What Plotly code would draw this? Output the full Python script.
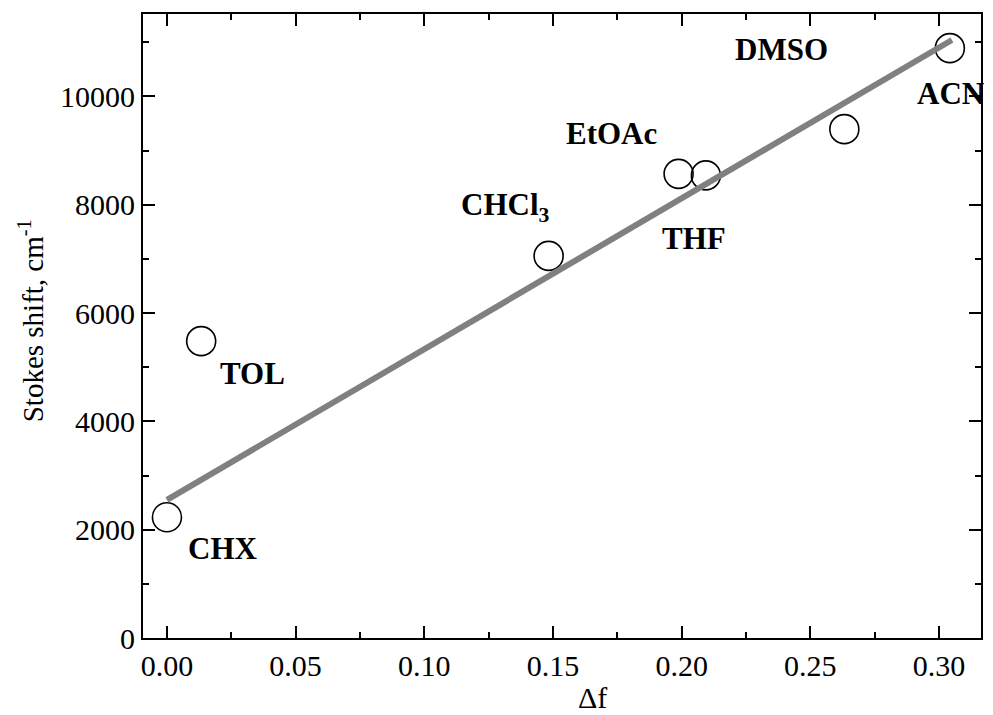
import plotly.graph_objects as go

# Data
delta_f = [0.0, 0.0133, 0.1483, 0.1988, 0.2094, 0.2632, 0.3042]
stokes = [2230, 5480, 7054, 8569, 8540, 9394, 10890]

fit_x = [0.0, 0.305]
fit_y = [2550, 11040]

x_ticks = [0, 0.05, 0.10, 0.15, 0.20, 0.25, 0.30]
x_ticktext = ["0.00", "0.05", "0.10", "0.15", "0.20", "0.25", "0.30"]
y_ticks = [0, 2000, 4000, 6000, 8000, 10000]
y_ticktext = ["0", "2000", "4000", "6000", "8000", "10000"]

label_text = ["CHX", "TOL", "CHCl<sub>3</sub>", "EtOAc", "THF", "DMSO", "ACN"]
label_x = [0.0217, 0.0334, 0.1316, 0.1727, 0.2046, 0.2387, 0.3043]
label_y = [1644, 4876, 7960, 9307, 7369, 10859, 10047]

FONT = "Liberation Serif, Times New Roman, serif"

fig = go.Figure()
fig.add_trace(go.Scatter(
    x=delta_f, y=stokes, mode="markers",
    marker=dict(symbol="circle-open", size=29, color="black", line=dict(width=1.6, color="black")),
    showlegend=False, hoverinfo="skip"))
fig.add_trace(go.Scatter(
    x=fit_x, y=fit_y, mode="lines",
    line=dict(color="#808080", width=6),
    showlegend=False, hoverinfo="skip"))

annotations = []
for t, x, y in zip(label_text, label_x, label_y):
    annotations.append(dict(x=x, y=y, xref="x", yref="y", text="<b>" + t + "</b>",
                            showarrow=False, font=dict(family=FONT, size=31, color="black"),
                            xanchor="center", yanchor="middle"))
annotations.append(dict(x=0.536, y=-0.095, xref="paper", yref="paper", text="Δf",
                        showarrow=False, font=dict(family=FONT, size=30, color="black"),
                        xanchor="center", yanchor="middle"))
annotations.append(dict(x=-0.1333, y=0.508, xref="paper", yref="paper",
                        text="Stokes shift, cm<sup>-1</sup>", textangle=-90,
                        showarrow=False, font=dict(family=FONT, size=29, color="black"),
                        xanchor="center", yanchor="middle"))

axis_common = dict(showline=True, linewidth=2, linecolor="black", mirror="allticks",
                   ticks="inside", ticklen=12, tickwidth=2, tickcolor="black",
                   showgrid=False, zeroline=False,
                   tickfont=dict(family=FONT, size=30, color="black"))

fig.update_layout(
    width=993, height=715,
    margin=dict(l=143, r=10, t=14, b=77),
    paper_bgcolor="white", plot_bgcolor="white",
    xaxis=dict(range=[-0.0093, 0.3163], tickvals=x_ticks, ticktext=x_ticktext,
               minor=dict(ticks="inside", ticklen=6, tickwidth=2, tickcolor="black", dtick=0.025, tick0=0, showgrid=False),
               **axis_common),
    yaxis=dict(range=[0, 11520], tickvals=y_ticks, ticktext=y_ticktext,
               minor=dict(ticks="inside", ticklen=6, tickwidth=2, tickcolor="black", dtick=1000, tick0=0, showgrid=False),
               **axis_common),
    annotations=annotations,
)

fig.write_html("out.html")
